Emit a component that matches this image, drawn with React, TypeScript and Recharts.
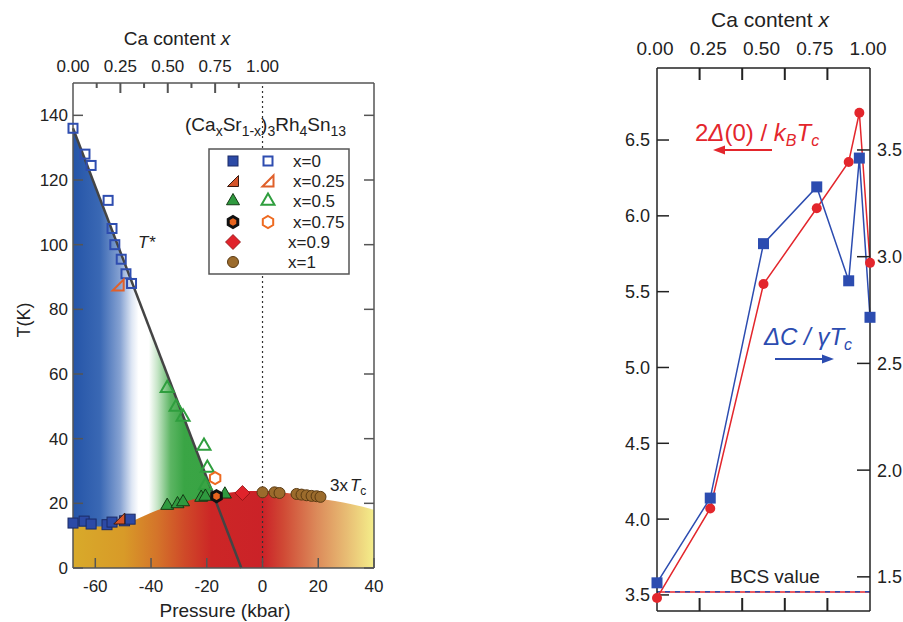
import React from "react";
import { ComposedChart, XAxis, YAxis, Area, Line, Scatter, ReferenceLine } from "recharts";

const FONT = "Liberation Sans, Arial, sans-serif";

// ---------- left panel: T vs pressure ----------
const pressureTicks = [-60, -40, -20, 0, 20, 40];
const tempTicks = [0, 20, 40, 60, 80, 100, 120, 140];
const caTicksLeft = [0, 0.125, 0.25, 0.375, 0.5, 0.625, 0.75, 0.875, 1];
// top axis of the left panel: Ca content 0 sits at -68 kbar, Ca content 1 at 0 kbar
const caToPressure = (c: number) => -68 + 68 * c;

// T* (open symbols)
const tStarX0 = [
  { p: -68, t: 136 }, { p: -63.7, t: 128 }, { p: -61.5, t: 124.5 }, { p: -55.4, t: 113.7 },
  { p: -54, t: 105 }, { p: -53, t: 100 }, { p: -50.7, t: 95.5 }, { p: -49, t: 91 }, { p: -47, t: 88 },
];
const tStarX025 = [{ p: -51.8, t: 87.5 }];
const tStarX05 = [
  { p: -34.2, t: 55.6 }, { p: -31, t: 49.8 }, { p: -28.5, t: 46.7 }, { p: -21, t: 37.7 },
  { p: -19.8, t: 30.9 }, { p: -20.5, t: 25.5 },
];
const tStarX075 = [{ p: -17, t: 27.8 }];

// 3 x Tc (filled symbols)
const tcX0 = [
  { p: -68, t: 13.9 }, { p: -64, t: 14.5 }, { p: -61.5, t: 13.6 }, { p: -55.8, t: 13.4 },
  { p: -54, t: 14.2 }, { p: -49.5, t: 14.6 }, { p: -47.5, t: 15.1 },
];
const tcX025 = [{ p: -51.4, t: 15.3 }];
const tcX05 = [
  { p: -34.2, t: 19.3 }, { p: -30.5, t: 19.8 }, { p: -28.5, t: 20.4 }, { p: -22, t: 21.8 },
  { p: -20.5, t: 22.1 }, { p: -13.5, t: 22.8 },
];
const tcX075 = [{ p: -16.5, t: 22.2 }];
const tcX09 = [{ p: -7.2, t: 23.2 }];
const tcX1 = [
  { p: 0, t: 23.4 }, { p: 4.3, t: 23.4 }, { p: 6.1, t: 23.2 }, { p: 12.2, t: 22.9 }, { p: 14, t: 22.7 },
  { p: 15.8, t: 22.5 }, { p: 17.6, t: 22.3 }, { p: 19.4, t: 22.2 }, { p: 20.8, t: 22 },
];

const tStarLine = [{ p: -68, t: 136 }, { p: -7.6, t: 0 }];
const tcBoundary = [
  { p: -68, t: 12.8 }, { p: -56, t: 12.8 }, { p: -50, t: 13.5 }, { p: -46, t: 14.8 }, { p: -42, t: 16.3 },
  { p: -38, t: 17.8 }, { p: -34, t: 19 }, { p: -28, t: 20.5 }, { p: -22, t: 21.8 }, { p: -16, t: 22.8 },
  { p: -10, t: 23.5 }, { p: -4, t: 23.8 }, { p: 2, t: 23.8 }, { p: 8, t: 23.3 }, { p: 14, t: 22.6 },
  { p: 20, t: 21.6 }, { p: 26, t: 20.7 }, { p: 32, t: 19.7 }, { p: 40, t: 18 },
];

const legendLabels = ["x=0", "x=0.25", "x=0.5", "x=0.75", "x=0.9", "x=1"];

// ---------- right panel: ratios vs Ca content ----------
const caContent = [0, 0.25, 0.5, 0.75, 0.9, 0.95, 1.0];
const gapRatio = [3.48, 4.07, 5.55, 6.05, 6.355, 6.68, 5.69];
const heatJump = [1.472, 1.869, 3.061, 3.327, 2.887, 3.462, 2.716];
const caLabelsRight = [0, 0.25, 0.5, 0.75, 1];
const caMarksRight = [0.2, 0.4, 0.6, 0.8];
const gapTicks = [3.5, 4.0, 4.5, 5.0, 5.5, 6.0, 6.5];
const jumpTicks = [1.5, 2.0, 2.5, 3.0, 3.5];
const bcsGap = 3.52;
const bcsJump = 1.43;

const rightRows = caContent.map((ca, i) => ({ ca, gap: gapRatio[i], jump: heatJump[i] }));

const RED = "#e3262c";
const BLUE = "#2c4cb0";

// ---------- marker shapes ----------
const SqFilled = ({ cx, cy }: any) => (
  <rect x={cx - 5} y={cy - 5} width={10} height={10} fill="#2c4aa6" stroke="#1b2b66" strokeWidth={1} />
);
const SqOpen = ({ cx, cy }: any) => (
  <rect x={cx - 4.5} y={cy - 4.5} width={9} height={9} fill="none" stroke="#2e4db0" strokeWidth={2} />
);
const rtri = (cx: number, cy: number, s: number) =>
  `${cx + s / 2},${cy - s / 2} ${cx + s / 2},${cy + s / 2} ${cx - s / 2},${cy + s / 2}`;
const RtriFilled = ({ cx, cy }: any) => (
  <polygon points={rtri(cx, cy, 11)} fill="#d5552a" stroke="#3a1a10" strokeWidth={1} />
);
const RtriOpen = ({ cx, cy }: any) => (
  <polygon points={rtri(cx, cy, 11)} fill="none" stroke="#e0602a" strokeWidth={2} />
);
const tri = (cx: number, cy: number, s: number) => {
  const h = s * 0.866;
  return `${cx},${cy - (2 * h) / 3} ${cx - s / 2},${cy + h / 3} ${cx + s / 2},${cy + h / 3}`;
};
const TriFilled = ({ cx, cy }: any) => (
  <polygon points={tri(cx, cy, 13)} fill="#2f9a3f" stroke="#143a14" strokeWidth={1} />
);
const TriOpen = ({ cx, cy }: any) => (
  <polygon points={tri(cx, cy, 13)} fill="none" stroke="#2f9e3e" strokeWidth={2} />
);
const hex = (cx: number, cy: number, r: number) =>
  [0, 1, 2, 3, 4, 5]
    .map((k) => {
      const a = ((-90 + 60 * k) * Math.PI) / 180;
      return `${cx + r * Math.cos(a)},${cy + r * Math.sin(a)}`;
    })
    .join(" ");
const HexFilled = ({ cx, cy }: any) => (
  <polygon points={hex(cx, cy, 5.5)} fill="#e8641e" stroke="#111" strokeWidth={3} />
);
const HexOpen = ({ cx, cy }: any) => (
  <polygon points={hex(cx, cy, 6)} fill="none" stroke="#ee6a20" strokeWidth={2} />
);
const Diamond = ({ cx, cy }: any) => (
  <polygon
    points={`${cx},${cy - 7.5} ${cx + 7.5},${cy} ${cx},${cy + 7.5} ${cx - 7.5},${cy}`}
    fill="#e0232b"
    stroke="#8a1010"
    strokeWidth={0.8}
  />
);
const Circ = ({ cx, cy }: any) => (
  <circle cx={cx} cy={cy} r={5.5} fill="#9b6b2c" stroke="#5a3a12" strokeWidth={1} />
);

const legendMarks: any[] = [
  [SqFilled, SqOpen],
  [RtriFilled, RtriOpen],
  [TriFilled, TriOpen],
  [HexFilled, HexOpen],
  [Diamond, null],
  [Circ, null],
];

// ---------- secondary-axis ticks drawn through reference lines ----------
const caMarkLeft = (c: number) => (props: any) => {
  const x = Number(props.x1);
  const top = Math.min(Number(props.y1), Number(props.y2));
  const k = Math.round(c * 1000);
  const major = k % 250 === 0;
  const len = k === 0 || k === 1000 ? 0 : major ? 10 : 5;
  return (
    <g>
      {len > 0 && <rect x={x - 1} y={top} width={2} height={len} fill="#555" />}
      {major && (
        <text x={x} y={top - 11} textAnchor="middle" fontSize={17} fill="#222" fontFamily={FONT}>
          {c.toFixed(2)}
        </text>
      )}
    </g>
  );
};

const caMarkRight = (props: any) => {
  const x = Number(props.x1);
  const top = Math.min(Number(props.y1), Number(props.y2));
  return <rect x={x - 1} y={top} width={2} height={12} fill="#222" />;
};

const CaLabelRight = (props: any) => {
  const { x, y, payload } = props;
  const v = Number(payload.value);
  const k = Math.round(v * 100);
  if (k % 25 !== 0) return <g />;
  return (
    <text x={x - 2} y={y - 13} textAnchor="middle" fontSize={19} fill="#222" fontFamily={FONT}>
      {v.toFixed(2)}
    </text>
  );
};

const axL = { stroke: "#555", strokeWidth: 1.5 };
const axR = { stroke: "#222", strokeWidth: 1.5 };
const tkR = { stroke: "#222", strokeWidth: 2 };
const blank = () => "";

function LeftPanel() {
  return (
    <ComposedChart width={420} height={622} data={tcBoundary} margin={{ top: 0, right: 0, bottom: 0, left: 0 }}>
      <defs>
        <linearGradient id="gTop" x1="0" y1="0" x2="1" y2="0">
          <stop offset="0%" stopColor="#2555a8" />
          <stop offset="16%" stopColor="#3a68b4" />
          <stop offset="28%" stopColor="#86a2d2" />
          <stop offset="35%" stopColor="#dfe7f4" />
          <stop offset="39%" stopColor="#ffffff" />
          <stop offset="45%" stopColor="#ffffff" />
          <stop offset="50%" stopColor="#c8e6c9" />
          <stop offset="58%" stopColor="#5cb563" />
          <stop offset="66%" stopColor="#3aa545" />
          <stop offset="100%" stopColor="#38a243" />
        </linearGradient>
        <linearGradient id="gBot" x1="0" y1="0" x2="1" y2="0">
          <stop offset="0%" stopColor="#d8aa2a" />
          <stop offset="17%" stopColor="#d89a28" />
          <stop offset="28%" stopColor="#d4742a" />
          <stop offset="37%" stopColor="#cf4a28" />
          <stop offset="46%" stopColor="#cc2626" />
          <stop offset="63%" stopColor="#cb2228" />
          <stop offset="70%" stopColor="#d04a35" />
          <stop offset="81%" stopColor="#dc8a5a" />
          <stop offset="91%" stopColor="#e8bd74" />
          <stop offset="100%" stopColor="#f4ee8a" />
        </linearGradient>
      </defs>
      <XAxis
        xAxisId="p"
        type="number"
        dataKey="p"
        orientation="bottom"
        domain={[-68, 40]}
        ticks={pressureTicks}
        interval={0}
        height={54}
        tickSize={-10}
        tickMargin={22}
        axisLine={axL}
        tickLine={axL}
        tick={{ fill: "#222", fontSize: 17, fontFamily: FONT }}
      />
      <XAxis
        xAxisId="ca"
        type="number"
        dataKey="p"
        orientation="top"
        domain={[-68, 40]}
        height={83}
        tick={false}
        tickLine={false}
        axisLine={axL}
      />
      <YAxis
        yAxisId="L"
        type="number"
        dataKey="t"
        orientation="left"
        width={73}
        domain={[0, 150]}
        ticks={tempTicks}
        interval={0}
        tickSize={-10}
        tickMargin={15}
        axisLine={axL}
        tickLine={axL}
        tick={{ fill: "#222", fontSize: 17, fontFamily: FONT }}
      />
      <YAxis
        yAxisId="R"
        type="number"
        orientation="right"
        width={46}
        domain={[0, 150]}
        allowDataOverflow
        ticks={tempTicks}
        interval={0}
        tickSize={-10}
        tickFormatter={blank}
        axisLine={axL}
        tickLine={axL}
      />
      <Area
        xAxisId="p"
        yAxisId="L"
        data={tStarLine}
        dataKey="t"
        type="linear"
        fill="url(#gTop)"
        fillOpacity={1}
        stroke="none"
        isAnimationActive={false}
      />
      <Area
        xAxisId="p"
        yAxisId="L"
        data={tcBoundary}
        dataKey="t"
        type="monotone"
        fill="url(#gBot)"
        fillOpacity={1}
        stroke="none"
        isAnimationActive={false}
      />
      <ReferenceLine xAxisId="p" yAxisId="L" x={0} stroke="#333" strokeWidth={1.2} strokeDasharray="2 3" />
      {caTicksLeft.map((c) => (
        <ReferenceLine
          key={`ca-${c}`}
          xAxisId="p"
          yAxisId="L"
          x={caToPressure(c)}
          ifOverflow="visible"
          shape={caMarkLeft(c)}
        />
      ))}
      <Line
        xAxisId="p"
        yAxisId="L"
        data={tStarLine}
        dataKey="t"
        type="linear"
        stroke="#444"
        strokeWidth={2.5}
        dot={false}
        isAnimationActive={false}
      />
      <Scatter xAxisId="p" yAxisId="L" data={tStarX0} dataKey="t" shape={SqOpen} isAnimationActive={false} />
      <Scatter xAxisId="p" yAxisId="L" data={tStarX025} dataKey="t" shape={RtriOpen} isAnimationActive={false} />
      <Scatter xAxisId="p" yAxisId="L" data={tStarX05} dataKey="t" shape={TriOpen} isAnimationActive={false} />
      <Scatter xAxisId="p" yAxisId="L" data={tStarX075} dataKey="t" shape={HexOpen} isAnimationActive={false} />
      <Scatter xAxisId="p" yAxisId="L" data={tcX0} dataKey="t" shape={SqFilled} isAnimationActive={false} />
      <Scatter xAxisId="p" yAxisId="L" data={tcX025} dataKey="t" shape={RtriFilled} isAnimationActive={false} />
      <Scatter xAxisId="p" yAxisId="L" data={tcX05} dataKey="t" shape={TriFilled} isAnimationActive={false} />
      <Scatter xAxisId="p" yAxisId="L" data={tcX075} dataKey="t" shape={HexFilled} isAnimationActive={false} />
      <Scatter xAxisId="p" yAxisId="L" data={tcX09} dataKey="t" shape={Diamond} isAnimationActive={false} />
      <Scatter xAxisId="p" yAxisId="L" data={tcX1} dataKey="t" shape={Circ} isAnimationActive={false} />
    </ComposedChart>
  );
}

const SquareDot = (props: any) => {
  const { cx, cy, index } = props;
  return <rect key={`sq-${index}`} x={cx - 5.5} y={cy - 5.5} width={11} height={11} fill={BLUE} />;
};

function RightPanel() {
  return (
    <ComposedChart width={313} height={622} data={rightRows} margin={{ top: 0, right: 0, bottom: 0, left: 0 }}>
      <XAxis
        xAxisId="top"
        type="number"
        dataKey="ca"
        orientation="top"
        domain={[0, 1]}
        ticks={caLabelsRight}
        interval={0}
        height={68}
        tickSize={0}
        tickMargin={0}
        tickLine={false}
        axisLine={axR}
        tick={CaLabelRight}
      />
      <XAxis
        xAxisId="bot"
        type="number"
        dataKey="ca"
        orientation="bottom"
        domain={[0, 1]}
        ticks={caMarksRight}
        interval={0}
        height={11}
        tickSize={-13}
        tickFormatter={blank}
        tickLine={tkR}
        axisLine={axR}
      />
      <YAxis
        yAxisId="L"
        type="number"
        orientation="left"
        width={67}
        domain={[3.394, 6.975]}
        ticks={gapTicks}
        interval={0}
        tickFormatter={(v: number) => v.toFixed(1)}
        tickSize={-12}
        tickMargin={19}
        axisLine={axR}
        tickLine={axR}
        tick={{ fill: "#222", fontSize: 18, fontFamily: FONT }}
      />
      <YAxis
        yAxisId="R"
        type="number"
        orientation="right"
        width={33}
        domain={[1.34, 3.884]}
        ticks={jumpTicks}
        interval={0}
        tickFormatter={(v: number) => v.toFixed(1)}
        tickSize={-13}
        tickMargin={20}
        axisLine={axR}
        tickLine={axR}
        tick={{ fill: "#222", fontSize: 18, fontFamily: FONT }}
      />
      {caMarksRight.map((c) => (
        <ReferenceLine
          key={`m-${c}`}
          xAxisId="top"
          yAxisId="L"
          x={c}
          ifOverflow="visible"
          shape={caMarkRight}
        />
      ))}
      <ReferenceLine xAxisId="top" yAxisId="L" y={bcsGap} stroke={RED} strokeWidth={1.5} />
      <ReferenceLine xAxisId="top" yAxisId="R" y={bcsJump} stroke={BLUE} strokeWidth={1.5} strokeDasharray="5 5" />
      <Line
        xAxisId="top"
        yAxisId="L"
        data={rightRows}
        dataKey="gap"
        type="linear"
        stroke={RED}
        strokeWidth={1.5}
        dot={{ r: 5, fill: RED, stroke: RED, strokeWidth: 0 }}
        isAnimationActive={false}
      />
      <Line
        xAxisId="top"
        yAxisId="R"
        data={rightRows}
        dataKey="jump"
        type="linear"
        stroke={BLUE}
        strokeWidth={1.5}
        dot={SquareDot}
        isAnimationActive={false}
      />
    </ComposedChart>
  );
}

function Overlay() {
  const sub = { fontSize: 14 };
  return (
    <svg
      width={903}
      height={622}
      style={{ position: "absolute", left: 0, top: 0, pointerEvents: "none" }}
      fontFamily={FONT}
    >
      {/* left panel titles */}
      <text x={177} y={45} textAnchor="middle" fontSize={19} fill="#222">
        Ca content <tspan fontStyle="italic">x</tspan>
      </text>
      <text x={225} y={617} textAnchor="middle" fontSize={19} fill="#222">
        Pressure (kbar)
      </text>
      <text x={30} y={320} textAnchor="middle" fontSize={18} fill="#222" transform="rotate(-90 30 320)">
        T(K)
      </text>
      <text x={185} y={131} fontSize={19} fill="#222">
        (Ca<tspan {...sub} dy={5}>x</tspan>
        <tspan dy={-5}>Sr</tspan>
        <tspan {...sub} dy={5}>1-x</tspan>
        <tspan dy={-5}>)</tspan>
        <tspan {...sub} dy={5}>3</tspan>
        <tspan dy={-5}>Rh</tspan>
        <tspan {...sub} dy={5}>4</tspan>
        <tspan dy={-5}>Sn</tspan>
        <tspan {...sub} dy={5}>13</tspan>
      </text>
      <text x={138} y={248} fontSize={17} fill="#222" fontStyle="italic">
        T*
      </text>
      <text x={330} y={491} fontSize={17} fill="#222">
        3x<tspan dx={2} fontStyle="italic">T</tspan>
        <tspan fontSize={12} dy={4}>c</tspan>
      </text>

      {/* legend box */}
      <rect x={209} y={149} width={140} height={125} fill="#fff" stroke="#555" strokeWidth={1.5} />
      {legendLabels.map((lab, i) => {
        const cy = [161, 181, 201, 222, 242, 262][i];
        const [F, O] = legendMarks[i];
        return (
          <g key={lab}>
            <F cx={233} cy={cy} />
            {O && <O cx={268} cy={cy} />}
            <text x={i < 4 ? 293 : 288} y={cy + 6} fontSize={17} fill="#222">
              {lab}
            </text>
          </g>
        );
      })}

      {/* right panel titles */}
      <text x={770} y={27} textAnchor="middle" fontSize={21} fill="#222">
        Ca content <tspan fontStyle="italic">x</tspan>
      </text>
      <text x={695} y={141} fontSize={24} fill={RED}>
        2<tspan fontStyle="italic">Δ</tspan>(0) / <tspan fontStyle="italic">k</tspan>
        <tspan fontStyle="italic" fontSize={16} dy={5}>B</tspan>
        <tspan fontStyle="italic" dy={-5}>T</tspan>
        <tspan fontStyle="italic" fontSize={16} dy={5}>c</tspan>
      </text>
      <line x1={772} y1={150} x2={722} y2={150} stroke={RED} strokeWidth={2} />
      <polygon points="713,150 725,145.5 725,154.5" fill={RED} />
      <text x={764} y={345} fontSize={24} fill={BLUE} fontStyle="italic">
        ΔC / γT<tspan fontSize={16} dy={5}>c</tspan>
      </text>
      <line x1={775} y1={359} x2={824} y2={359} stroke={BLUE} strokeWidth={2} />
      <polygon points="834,359 822,354.5 822,363.5" fill={BLUE} />
      <text x={730} y={583} fontSize={19} fill="#222">
        BCS value
      </text>
    </svg>
  );
}

export default function App() {
  return (
    <div style={{ position: "absolute", left: 0, top: 0, width: 903, height: 622, background: "#fff", fontFamily: FONT }}>
      <div style={{ position: "absolute", left: 0, top: 0 }}>
        <LeftPanel />
      </div>
      <div style={{ position: "absolute", left: 590, top: 0 }}>
        <RightPanel />
      </div>
      <Overlay />
    </div>
  );
}
